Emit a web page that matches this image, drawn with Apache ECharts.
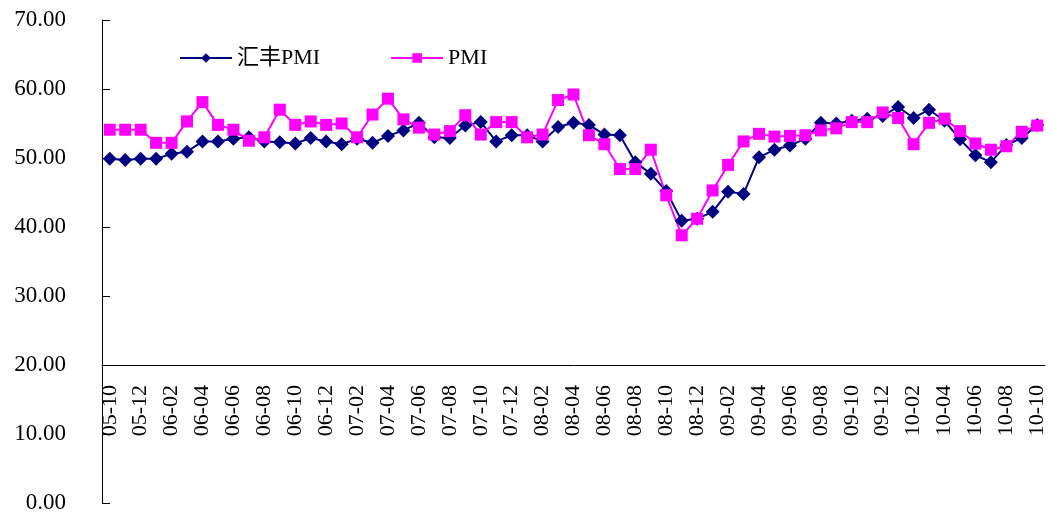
<!DOCTYPE html>
<html>
<head>
<meta charset="utf-8">
<script src="https://cdn.jsdelivr.net/npm/echarts@6/dist/echarts.min.js"></script>
<style>
  html, body { margin: 0; padding: 0; background: #fff; }
  #chart { width: 1053px; height: 518px; }
</style>
</head>
<body>
<div id="chart"></div>
<script>
// months 05-10 .. 10-10
const months = [
  '05-10', '05-11', '05-12',
  '06-01', '06-02', '06-03', '06-04', '06-05', '06-06', '06-07', '06-08', '06-09', '06-10', '06-11', '06-12',
  '07-01', '07-02', '07-03', '07-04', '07-05', '07-06', '07-07', '07-08', '07-09', '07-10', '07-11', '07-12',
  '08-01', '08-02', '08-03', '08-04', '08-05', '08-06', '08-07', '08-08', '08-09', '08-10', '08-11', '08-12',
  '09-01', '09-02', '09-03', '09-04', '09-05', '09-06', '09-07', '09-08', '09-09', '09-10', '09-11', '09-12',
  '10-01', '10-02', '10-03', '10-04', '10-05', '10-06', '10-07', '10-08', '10-09', '10-10'
];

const hsbcPmi = [
  49.9, 49.7, 49.9,
  49.9, 50.6, 50.9, 52.4, 52.4, 52.8, 53.0, 52.4, 52.3, 52.1, 52.9, 52.4,
  52.0, 52.8, 52.2, 53.2, 54.0, 55.1, 53.0, 52.9, 54.7, 55.2, 52.4, 53.3,
  53.3, 52.4, 54.5, 55.1, 54.8, 53.4, 53.3, 49.4, 47.7, 45.2, 40.9, 41.2,
  42.2, 45.1, 44.8, 50.1, 51.2, 51.8, 52.8, 55.1, 55.0, 55.4, 55.7, 56.1,
  57.4, 55.8, 57.0, 55.4, 52.7, 50.4, 49.4, 51.9, 52.9, 54.8
];

const pmi = [
  54.1, 54.1, 54.1,
  52.2, 52.2, 55.3, 58.1, 54.8, 54.1, 52.5, 53.0, 57.0, 54.8, 55.3, 54.8,
  55.0, 53.0, 56.3, 58.6, 55.6, 54.4, 53.4, 53.9, 56.2, 53.4, 55.2, 55.2,
  53.0, 53.4, 58.4, 59.2, 53.3, 52.0, 48.4, 48.4, 51.2, 44.6, 38.8, 41.2,
  45.3, 49.0, 52.4, 53.5, 53.1, 53.2, 53.3, 54.0, 54.3, 55.2, 55.2, 56.6,
  55.8, 52.0, 55.1, 55.7, 53.9, 52.1, 51.2, 51.7, 53.8, 54.7
];

const chart = echarts.init(document.getElementById('chart'));

const textFont = '"Liberation Serif", "Noto Sans CJK SC", serif';

const option = {
  backgroundColor: '#ffffff',
  animation: false,
  textStyle: { fontFamily: textFont },
  legend: {
    left: 174,
    top: 42,
    itemWidth: 52,
    itemHeight: 12,
    itemGap: 70,
    textStyle: {
      fontFamily: textFont,
      fontSize: 22,
      color: '#000'
    },
    data: ['汇丰PMI', 'PMI']
  },
  grid: {
    left: 102,
    right: 8,
    top: 20,
    bottom: 15
  },
  xAxis: {
    type: 'category',
    data: months,
    position: 'bottom',
    offset: -138,
    boundaryGap: true,
    axisLine: {
      lineStyle: { color: '#000', width: 1 }
    },
    axisTick: {
      inside: true,
      length: 8,
      interval: 1,
      lineStyle: { color: '#000' }
    },
    axisLabel: {
      interval: 1,
      rotate: 90,
      margin: 20,
      color: '#000',
      fontSize: 22,
      fontFamily: textFont
    },
    splitLine: { show: false }
  },
  yAxis: {
    type: 'value',
    min: 0,
    max: 70,
    interval: 10,
    axisLine: {
      show: true,
      lineStyle: { color: '#000', width: 1 }
    },
    axisTick: {
      show: true,
      inside: true,
      length: 8,
      lineStyle: { color: '#000' }
    },
    axisLabel: {
      margin: 36,
      color: '#000',
      fontSize: 23,
      fontFamily: textFont,
      formatter: v => v.toFixed(2)
    },
    splitLine: { show: false }
  },
  series: [
    {
      name: '汇丰PMI',
      type: 'line',
      data: hsbcPmi,
      symbol: 'diamond',
      symbolSize: 14,
      showAllSymbol: true,
      color: '#000080',
      lineStyle: { color: '#000080', width: 2 },
      itemStyle: { color: '#000080' }
    },
    {
      name: 'PMI',
      type: 'line',
      data: pmi,
      symbol: 'rect',
      symbolSize: 12,
      showAllSymbol: true,
      color: '#ff00ff',
      lineStyle: { color: '#ff00ff', width: 2 },
      itemStyle: { color: '#ff00ff' }
    }
  ]
};

chart.setOption(option);
</script>
</body>
</html>
